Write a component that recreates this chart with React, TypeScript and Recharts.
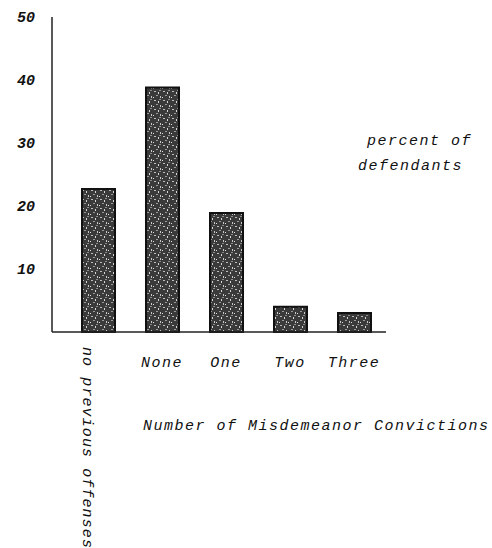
import { BarChart, Bar, XAxis, YAxis } from "recharts";

const categories = ["no previous offenses", "None", "One", "Two", "Three"];
const percentDefendants = [22.7, 38.8, 18.9, 4, 3];
const yTicks = [10, 20, 30, 40, 50];

const data = categories.map((name, i) => ({ name, pct: percentDefendants[i] }));

const FONT = "'Liberation Mono', 'Courier New', monospace";

const CategoryTick = (props: any) => {
  const { x, y, payload, index } = props;
  if (index === 0) {
    const x0 = x - 15;
    const y0 = y + 7;
    return (
      <text
        x={x0}
        y={y0}
        transform={`rotate(90, ${x0}, ${y0})`}
        fontFamily={FONT}
        fontStyle="italic"
        fontSize={15}
        letterSpacing={1.1}
        fill="#111"
      >
        {payload.value}
      </text>
    );
  }
  return (
    <text
      x={x}
      y={y + 27}
      textAnchor="middle"
      fontFamily={FONT}
      fontStyle="italic"
      fontSize={15}
      letterSpacing={1.5}
      fill="#111"
    >
      {payload.value}
    </text>
  );
};

const textStyle: React.CSSProperties = {
  position: "absolute",
  fontFamily: FONT,
  fontStyle: "italic",
  fontSize: 15,
  letterSpacing: "1.5px",
  color: "#111",
  whiteSpace: "nowrap",
  lineHeight: "16px",
};

export default function App() {
  return (
    <div style={{ position: "absolute", left: 0, top: 0, width: 492, height: 548, background: "#fff" }}>
      <BarChart
        width={492}
        height={548}
        data={data}
        margin={{ top: 17, right: 106, left: 0, bottom: 0 }}
        barSize={33}
      >
        <defs>
          <pattern id="speckle" width="9" height="9" patternUnits="userSpaceOnUse">
            <rect width="9" height="9" fill="#3a3a3a" />
            <rect x="1" y="1" width="2" height="1" fill="#bdbdbd" />
            <rect x="5" y="2" width="1" height="2" fill="#d6d6d6" />
            <rect x="3" y="5" width="2" height="1" fill="#9a9a9a" />
            <rect x="7" y="6" width="1" height="2" fill="#c8c8c8" />
            <rect x="0" y="7" width="1" height="1" fill="#e0e0e0" />
            <rect x="6" y="0" width="2" height="1" fill="#8a8a8a" />
          </pattern>
        </defs>
        <XAxis
          dataKey="name"
          interval={0}
          padding={{ left: 14, right: 0 }}
          axisLine={{ stroke: "#222", strokeWidth: 1.5 }}
          tickLine={false}
          tick={<CategoryTick />}
          height={216}
        />
        <YAxis
          domain={[0, 50]}
          ticks={yTicks}
          width={52}
          axisLine={{ stroke: "#222", strokeWidth: 1.5 }}
          tickLine={false}
          tickSize={0}
          tickMargin={17}
          tick={{ fontFamily: FONT, fontStyle: "italic", fontWeight: "bold", fontSize: 15, fill: "#111" }}
        />
        <Bar
          dataKey="pct"
          fill="url(#speckle)"
          stroke="#111"
          strokeWidth={2}
          isAnimationActive={false}
        />
      </BarChart>
      <div style={{ ...textStyle, left: 367, top: 134 }}>percent of</div>
      <div style={{ ...textStyle, left: 358, top: 159 }}>defendants</div>
      <div style={{ ...textStyle, left: 143, top: 419 }}>Number of Misdemeanor Convictions</div>
    </div>
  );
}
